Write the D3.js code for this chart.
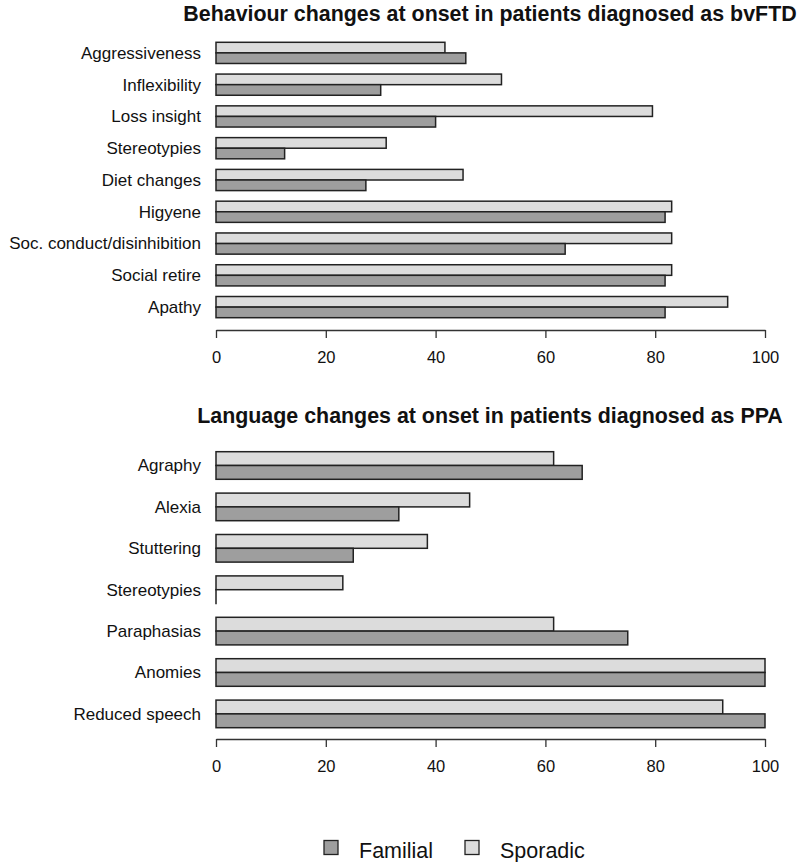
<!DOCTYPE html>
<html><head><meta charset="utf-8">
<script src="https://cdn.jsdelivr.net/npm/d3@7"></script>
<style>
body{margin:0;background:#fff;}
svg text{font-family:"Liberation Sans",Arial,sans-serif;fill:#111;}
</style></head>
<body>
<svg id="c" width="800" height="862"></svg>
<script>
// ---- data ----
const series = ["Sporadic", "Familial"];
const behaviourCats = ["Aggressiveness","Inflexibility","Loss insight","Stereotypies","Diet changes","Higyene","Soc. conduct/disinhibition","Social retire","Apathy"];
const behaviourSporadic = [41.7, 52.0, 79.5, 31.0, 45.0, 83.0, 83.0, 83.0, 93.2];
const behaviourFamilial = [45.5, 30.0, 40.0, 12.5, 27.3, 81.8, 63.6, 81.8, 81.8];
const languageCats = ["Agraphy","Alexia","Stuttering","Stereotypies","Paraphasias","Anomies","Reduced speech"];
const languageSporadic = [61.5, 46.2, 38.5, 23.1, 61.5, 100, 92.3];
const languageFamilial = [66.7, 33.3, 25.0, 0, 75.0, 100, 100];
const xTicks = [0, 20, 40, 60, 80, 100];
const titles = ["Behaviour changes at onset in patients diagnosed as bvFTD",
                "Language changes at onset in patients diagnosed as PPA"];

const colors = {Sporadic: "#dcdcdc", Familial: "#9e9e9e"};
const svg = d3.select("#c");
const x = d3.scaleLinear().domain([0, 100]).range([216, 765]);

function panel(cats, spor, fam, y0, y1, axisY, title, titleY) {
  const g = svg.append("g");
  g.append("text").attr("x", 490).attr("y", titleY).attr("text-anchor", "middle")
    .style("font-weight", "bold").style("font-size", "21.4px").text(title);
  const y = d3.scaleBand().domain(cats).range([y0, y1]).paddingInner(1/3).paddingOuter(0);
  const yi = d3.scaleBand().domain(series).range([0, y.bandwidth()]);
  const rows = cats.map((c, i) => ({cat: c, Sporadic: spor[i], Familial: fam[i]}));
  const grp = g.selectAll("g.row").data(rows).join("g")
    .attr("transform", d => `translate(0,${y(d.cat)})`);
  grp.selectAll("rect").data(d => series.map(s => ({s, v: d[s]}))).join("rect")
    .attr("x", x(0)).attr("y", d => yi(d.s))
    .attr("width", d => Math.max(x(d.v) - x(0), 0.01)).attr("height", yi.bandwidth())
    .attr("fill", d => colors[d.s]).attr("stroke", "#222").attr("stroke-width", 1.5);
  grp.append("text").attr("x", 201).attr("y", y.bandwidth() / 2).attr("dy", "0.35em")
    .attr("text-anchor", "end").style("font-size", "17px").text(d => d.cat);
  const ax = g.append("g").attr("transform", `translate(0,${axisY})`)
    .call(d3.axisBottom(x).tickValues(xTicks).tickSize(8).tickSizeOuter(0).tickPadding(13));
  ax.selectAll("path,line").attr("stroke", "#333").attr("stroke-width", 1.3);
  ax.selectAll("text").style("font-size", "16.5px").attr("fill", "#111")
    .style("font-family", "'Liberation Sans',Arial,sans-serif");
}

panel(behaviourCats, behaviourSporadic, behaviourFamilial, 42.3, 317.7, 330, titles[0], 21);
panel(languageCats, languageSporadic, languageFamilial, 451.7, 727.7, 739, titles[1], 423);

// legend
const leg = svg.append("g");
const legItems = [{s: "Familial", bx: 324, tx: 359}, {s: "Sporadic", bx: 465, tx: 500}];
leg.selectAll("rect").data(legItems).join("rect")
  .attr("x", d => d.bx).attr("y", 840.5).attr("width", 14).attr("height", 14)
  .attr("fill", d => colors[d.s]).attr("stroke", "#222").attr("stroke-width", 1.3);
leg.selectAll("text").data(legItems).join("text")
  .attr("x", d => d.tx).attr("y", 858).style("font-size", "21.5px").text(d => d.s);
</script>
</body></html>
